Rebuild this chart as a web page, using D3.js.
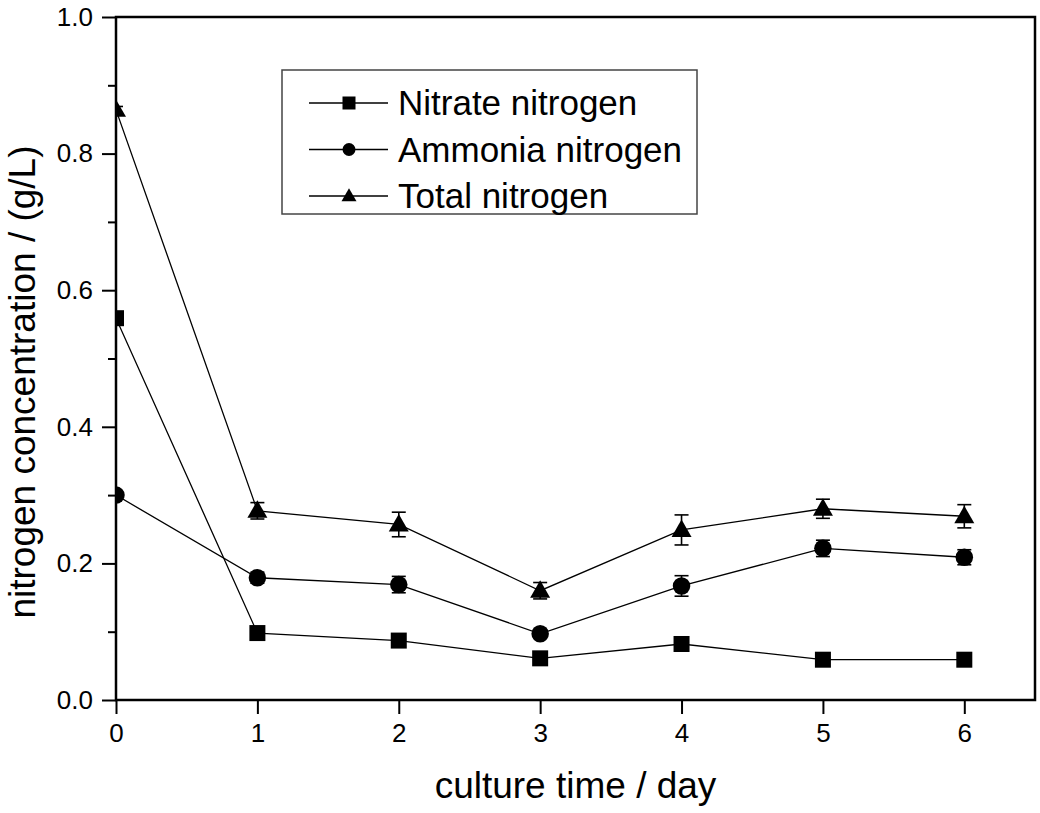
<!DOCTYPE html>
<html>
<head>
<meta charset="utf-8">
<script src="https://cdn.jsdelivr.net/npm/d3@7"></script>
<style>
  body { margin: 0; background: #fff; }
  svg { font-family: "Liberation Sans", Arial, sans-serif; }
</style>
</head>
<body>
<svg></svg>
<script>
// values
var days = [0, 1, 2, 3, 4, 5, 6];
var nitrate = [0.559, 0.098, 0.087, 0.061, 0.082, 0.059, 0.059];
var nitrateErr = [0.003, 0.003, 0.003, 0.003, 0.003, 0.003, 0.003];
var ammonia = [0.300, 0.179, 0.169, 0.097, 0.167, 0.222, 0.209];
var ammoniaErr = [0.004, 0.008, 0.012, 0.006, 0.015, 0.012, 0.011];
var total = [0.864, 0.277, 0.257, 0.160, 0.249, 0.280, 0.269];
var totalErr = [0.005, 0.012, 0.018, 0.012, 0.022, 0.014, 0.017];
var seriesNames = ["Nitrate nitrogen", "Ammonia nitrogen", "Total nitrogen"];
var seriesShapes = ["square", "circle", "triangle"];
var yMajorTicks = [0, 0.2, 0.4, 0.6, 0.8, 1.0];
var yMinorTicks = [0.1, 0.3, 0.5, 0.7, 0.9];
var xTicks = [0, 1, 2, 3, 4, 5, 6];
var xTitle = "culture time / day";
var yTitle = "nitrogen concentration / (g/L)";

function init(width=1040, height=813) {
  var left = 116, right = 1035, top = 17, bottom = 700;
  var svg = d3.select("svg").attr("width", width).attr("height", height);
  var x = d3.scaleLinear().domain([0, 6.5]).range([left, right]);
  var y = d3.scaleLinear().domain([0, 1]).range([bottom, top]);

  svg.append("defs").append("clipPath").attr("id", "plotclip")
    .append("rect").attr("x", left).attr("y", top).attr("width", right - left).attr("height", bottom - top);

  // axes
  var ya = svg.append("g").attr("transform", "translate(" + left + ",0)")
    .call(d3.axisLeft(y).tickValues(yMajorTicks).tickFormat(d3.format(".1f")).tickSize(14).tickPadding(9));
  var ym = svg.append("g").attr("transform", "translate(" + left + ",0)")
    .call(d3.axisLeft(y).tickValues(yMinorTicks).tickFormat("").tickSize(8));
  var xa = svg.append("g").attr("transform", "translate(0," + bottom + ")")
    .call(d3.axisBottom(x).tickValues(xTicks).tickFormat(d3.format("d")).tickSize(14).tickPadding(10));
  [ya, ym, xa].forEach((g) => {
    g.select(".domain").remove();
    g.selectAll("line").attr("stroke", "#000").attr("stroke-width", 2);
    g.selectAll("text").attr("fill", "#000").style("font-size", "26px").style("font-family", "Liberation Sans, Arial, sans-serif");
  });

  svg.append("rect").attr("x", left).attr("y", top).attr("width", right - left).attr("height", bottom - top)
    .attr("fill", "none").attr("stroke", "#000").attr("stroke-width", 2.5);

  svg.append("text").attr("x", (left + right) / 2).attr("y", 798).attr("text-anchor", "middle")
    .style("font-size", "37px").text(xTitle);
  svg.append("text").attr("transform", "translate(35,382) rotate(-90)").attr("text-anchor", "middle")
    .style("font-size", "37px").text(yTitle);

  var plot = svg.append("g").attr("clip-path", "url(#plotclip)");
  var allValues = [nitrate, ammonia, total];
  var allErrs = [nitrateErr, ammoniaErr, totalErr];
  var sizes = {square: 16, circle: 17.5, triangle: 20};

  allValues.forEach((vals, s) => {
    var pts = days.map((d, i) => ({d: d, v: vals[i], e: allErrs[s][i]}));
    plot.append("path").datum(pts).attr("fill", "none").attr("stroke", "#000").attr("stroke-width", 1.3)
      .attr("d", d3.line().x((p) => x(p.d)).y((p) => y(p.v)));
    var eb = plot.append("g").attr("stroke", "#000").attr("stroke-width", 1.6);
    pts.forEach((p) => {
      eb.append("line").attr("x1", x(p.d)).attr("x2", x(p.d)).attr("y1", y(p.v - p.e)).attr("y2", y(p.v + p.e));
      eb.append("line").attr("x1", x(p.d) - 7).attr("x2", x(p.d) + 7).attr("y1", y(p.v - p.e)).attr("y2", y(p.v - p.e));
      eb.append("line").attr("x1", x(p.d) - 7).attr("x2", x(p.d) + 7).attr("y1", y(p.v + p.e)).attr("y2", y(p.v + p.e));
    });
    pts.forEach((p) => {
      drawMarker(plot, seriesShapes[s], x(p.d), y(p.v), sizes[seriesShapes[s]]);
    });
  });

  // legend
  var lg = svg.append("g");
  lg.append("rect").attr("x", 282).attr("y", 70).attr("width", 415).attr("height", 144)
    .attr("fill", "#fff").attr("stroke", "#444").attr("stroke-width", 1.5);
  seriesNames.forEach((name, i) => {
    var cy = 103 + i * 46.5;
    lg.append("line").attr("x1", 309).attr("x2", 388).attr("y1", cy).attr("y2", cy).attr("stroke", "#000").attr("stroke-width", 1.3);
    drawMarker(lg, seriesShapes[i], 349, cy, seriesShapes[i] == "triangle" ? 15 : 13);
    lg.append("text").attr("x", 398).attr("y", cy + 12).style("font-size", "35px").text(name);
  });
}

function drawMarker(g, shape, cx, cy, size) {
  if (shape == "square") {
    g.append("rect").attr("x", cx - size / 2).attr("y", cy - size / 2).attr("width", size).attr("height", size).attr("fill", "#000");
  } else if (shape == "circle") {
    g.append("circle").attr("cx", cx).attr("cy", cy).attr("r", size / 2).attr("fill", "#000");
  } else {
    var h = size * 0.87;
    g.append("path").attr("d", "M" + cx + "," + (cy - h * 0.6) + "L" + (cx + size / 2) + "," + (cy + h * 0.4) + "L" + (cx - size / 2) + "," + (cy + h * 0.4) + "Z").attr("fill", "#000");
  }
}

init();
</script>
</body>
</html>
